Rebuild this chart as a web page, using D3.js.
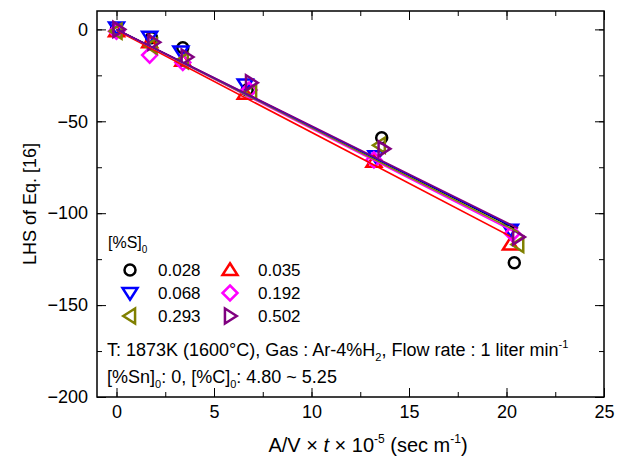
<!DOCTYPE html>
<html>
<head>
<meta charset="utf-8">
<script src="https://cdn.jsdelivr.net/npm/d3@7"></script>
<style>
  body { margin: 0; background: #fff; }
  svg { font-family: "Liberation Sans", Arial, sans-serif; }
</style>
</head>
<body>
<svg id="chart" width="630" height="464"></svg>
<script>
// [%S]0 series
var labels = ["0.028", "0.035", "0.068", "0.192", "0.293", "0.502"];
var colors = ["#000000", "#ff0000", "#0000ff", "#ff00ff", "#808000", "#800080"];
var shapes = ["circle", "up", "down", "diamond", "left", "right"];

var xs = [
    [0, 1.8, 3.4, 6.7, 13.6, 20.4],
    [0, 1.7, 3.4, 6.6, 13.2, 20.2],
    [0, 1.7, 3.3, 6.6, 13.3, 20.2],
    [0, 1.7, 3.4, 6.8, 13.2, 20.3],
    [0, 1.8, 3.4, 6.9, 13.5, 20.6],
    [0.1, 1.9, 3.6, 6.9, 13.7, 20.6]
];
var ys = [
    [0, -4.5, -10, -33, -59, -127],
    [-1, -7, -17, -35, -72, -117],
    [1, -4, -12, -30, -69, -109],
    [-1, -14, -18, -33, -71, -111],
    [-1, -9, -17, -34, -63, -117],
    [0, -7, -15, -29, -65, -113]
];
// fitted lines: slope and intercept per series
var slopes = [-5.3, -5.55, -5.28, -5.4, -5.35, -5.25];
var intercepts = [0, -0.5, 0, 0, 0, 0];

var xTicks = [0, 5, 10, 15, 20, 25];
var yTicks = [0, -50, -100, -150, -200];

var svg = d3.select("#chart");
var mLeft = 97, mRight = 604, mTop = 11, mBottom = 397;

var x = d3.scaleLinear().domain([-1, 25]).range([mLeft, mRight]);
var y = d3.scaleLinear().domain([-200, 10]).range([mBottom, mTop]);

// axes, ticks inward on all four sides
function tickAxis(g, axis) {
    g.call(axis);
    g.select(".domain").remove();
    g.selectAll("line").attr("stroke", "#000").attr("stroke-width", 1);
}
var xMinor = d3.range(0, 25.1, 2.5);
var yMinor = d3.range(-200, 1, 25);

svg.append("g").attr("transform", "translate(0," + mBottom + ")")
    .call(g => tickAxis(g, d3.axisBottom(x).tickValues(xMinor).tickSize(-5).tickFormat("")));
svg.append("g").attr("transform", "translate(0," + mBottom + ")")
    .call(g => tickAxis(g, d3.axisBottom(x).tickValues(xTicks).tickSize(-9).tickPadding(8)))
    .selectAll("text").attr("font-size", 18).attr("fill", "#000");
svg.append("g").attr("transform", "translate(0," + mTop + ")")
    .call(g => tickAxis(g, d3.axisTop(x).tickValues(xMinor).tickSize(-5).tickFormat("")));
svg.append("g").attr("transform", "translate(0," + mTop + ")")
    .call(g => tickAxis(g, d3.axisTop(x).tickValues(xTicks).tickSize(-9).tickFormat("")));

svg.append("g").attr("transform", "translate(" + mLeft + ",0)")
    .call(g => tickAxis(g, d3.axisLeft(y).tickValues(yMinor).tickSize(-5).tickFormat("")));
svg.append("g").attr("transform", "translate(" + mLeft + ",0)")
    .call(g => tickAxis(g, d3.axisLeft(y).tickValues(yTicks).tickSize(-9).tickPadding(9)))
    .selectAll("text").attr("font-size", 18).attr("fill", "#000");
svg.append("g").attr("transform", "translate(" + mRight + ",0)")
    .call(g => tickAxis(g, d3.axisRight(y).tickValues(yMinor).tickSize(-5).tickFormat("")));
svg.append("g").attr("transform", "translate(" + mRight + ",0)")
    .call(g => tickAxis(g, d3.axisRight(y).tickValues(yTicks).tickSize(-9).tickFormat("")));

svg.append("rect").attr("x", mLeft).attr("y", mTop)
    .attr("width", mRight - mLeft).attr("height", mBottom - mTop)
    .attr("fill", "none").attr("stroke", "#000").attr("stroke-width", 1.5);

// marker paths
function markerPath(shape, s) {
    var h = s * 0.9;
    if (shape == "up") return "M0," + (-h) + "L" + s + "," + (h * 0.75) + "L" + (-s) + "," + (h * 0.75) + "Z";
    if (shape == "down") return "M0," + h + "L" + s + "," + (-h * 0.75) + "L" + (-s) + "," + (-h * 0.75) + "Z";
    if (shape == "left") return "M" + (-h) + ",0L" + (h * 0.75) + "," + (-s) + "L" + (h * 0.75) + "," + s + "Z";
    if (shape == "right") return "M" + h + ",0L" + (-h * 0.75) + "," + (-s) + "L" + (-h * 0.75) + "," + s + "Z";
    if (shape == "diamond") return "M0," + (-s) + "L" + s + ",0L0," + s + "L" + (-s) + ",0Z";
}
function drawMarker(g, shape, color, cx, cy) {
    if (shape == "circle") {
        g.append("circle").attr("cx", cx).attr("cy", cy).attr("r", 5.5)
            .attr("fill", "none").attr("stroke", color).attr("stroke-width", 2.5);
    } else {
        g.append("path").attr("d", markerPath(shape, 7.5))
            .attr("transform", "translate(" + cx + "," + cy + ")")
            .attr("fill", "none").attr("stroke", color).attr("stroke-width", 2.5)
            .attr("stroke-linejoin", "miter");
    }
}

var plot = svg.append("g");
// markers
labels.forEach(function (lab, i) {
    xs[i].forEach(function (xv, j) {
        drawMarker(plot, shapes[i], colors[i], x(xv), y(ys[i][j]));
    });
});
// fit lines
var lineOrder = [0, 1, 3, 4, 2, 5];
lineOrder.forEach(function (i) {
    var x1 = xs[i][xs[i].length - 1];
    plot.append("line")
        .attr("x1", x(0)).attr("y1", y(intercepts[i]))
        .attr("x2", x(x1)).attr("y2", y(intercepts[i] + slopes[i] * x1))
        .attr("stroke", colors[i]).attr("stroke-width", 1.6);
});

// legend
var leg = svg.append("g").attr("font-size", 17);
var lt = leg.append("text").attr("x", 108).attr("y", 248).attr("font-size", 16);
lt.append("tspan").text("[%S]");
lt.append("tspan").attr("font-size", 10).attr("dy", 5).text("0");
labels.forEach(function (lab, i) {
    var col = i % 2, row = Math.floor(i / 2);
    var mx = col == 0 ? 130 : 230, ty = 270 + row * 23;
    drawMarker(leg, shapes[i], colors[i], mx, ty);
    leg.append("text").attr("x", mx + 28).attr("y", ty + 6).text(lab);
});

// annotation
var note = svg.append("g").attr("font-size", 18);
var t1 = note.append("text").attr("x", 107).attr("y", 356);
t1.append("tspan").text("T: 1873K (1600\u00B0C), Gas : Ar-4%H");
t1.append("tspan").attr("font-size", 11).attr("dy", 5).text("2");
t1.append("tspan").attr("dy", -5).text(", Flow rate : 1 liter min");
t1.append("tspan").attr("font-size", 11).attr("dy", -8).text("-1");
var t2 = note.append("text").attr("x", 107).attr("y", 383);
t2.append("tspan").text("[%Sn]");
t2.append("tspan").attr("font-size", 11).attr("dy", 5).text("0");
t2.append("tspan").attr("dy", -5).text(": 0, [%C]");
t2.append("tspan").attr("font-size", 11).attr("dy", 5).text("0");
t2.append("tspan").attr("dy", -5).text(": 4.80 ~ 5.25");

// axis titles
var xt = svg.append("text").attr("x", 368).attr("y", 452)
    .attr("text-anchor", "middle").attr("font-size", 20);
xt.append("tspan").text("A/V \u00D7 ");
xt.append("tspan").attr("font-style", "italic").text("t");
xt.append("tspan").text(" \u00D7 10");
xt.append("tspan").attr("font-size", 12).attr("dy", -9).text("-5");
xt.append("tspan").attr("dy", 9).text(" (sec m");
xt.append("tspan").attr("font-size", 12).attr("dy", -9).text("-1");
xt.append("tspan").attr("dy", 9).text(")");

svg.append("text")
    .attr("transform", "translate(36," + 204 + ") rotate(-90)")
    .attr("text-anchor", "middle").attr("font-size", 18)
    .text("LHS of Eq. [16]");
</script>
</body>
</html>
